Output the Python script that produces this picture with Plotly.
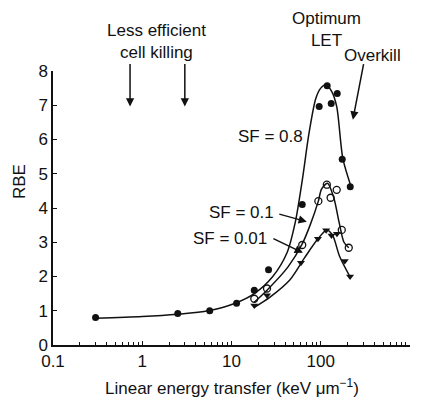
import numpy as np
import plotly.graph_objects as go

# ---- data points ----
sf08_x = [0.3, 2.5, 5.7, 11.4, 18, 26, 62, 96, 118, 131, 153, 174, 214]
sf08_y = [0.8, 0.92, 1.0, 1.22, 1.6, 2.2, 4.1, 6.96, 7.57, 7.05, 7.34, 5.42, 4.62]

sf01_x = [18, 25, 62, 94, 117, 129, 151, 172, 206]
sf01_y = [1.35, 1.65, 2.92, 4.2, 4.68, 4.3, 4.53, 3.36, 2.84]

sf001_x = [18, 25, 60, 93, 115, 132, 152, 186, 213]
sf001_y = [1.15, 1.45, 2.4, 3.1, 3.35, 3.2, 3.25, 2.45, 2.0]

# ---- fitted curves ----
c08_x = [0.3, 1, 2.5, 5.5, 11, 18, 29, 42, 52, 62, 74, 88, 100, 114, 133, 151, 177, 217]
c08_y = [0.78, 0.83, 0.9, 1.0, 1.22, 1.5, 2.0, 2.7, 3.6, 4.8, 6.2, 7.2, 7.5, 7.6, 7.4, 6.96, 5.44, 4.65]

c01_x = [18, 25, 43, 62, 76, 94, 102, 119, 140, 160, 182, 206]
c01_y = [1.25, 1.6, 2.28, 2.95, 3.5, 4.2, 4.55, 4.72, 4.3, 3.6, 3.0, 2.84]

c001_x = [18, 27, 45, 66, 93, 117, 136, 162, 212]
c001_y = [1.1, 1.4, 1.9, 2.55, 3.1, 3.36, 3.2, 2.6, 2.0]

y_ticks = [0, 1, 2, 3, 4, 5, 6, 7, 8]
x_ticks = [0.1, 1, 10, 100, 1000]
x_ticklabels = ["0.1", "1", "10", "100", "1000"]
x_minor = [m * 10.0 ** e for e in range(-1, 3) for m in range(2, 10)]

INK = "#111111"
FONT = "Liberation Sans, Arial, Helvetica, sans-serif"

fig = go.Figure()

line = dict(color=INK, width=1.5, shape="spline", smoothing=0.8)
for cx, cy in [(c08_x, c08_y), (c01_x, c01_y), (c001_x, c001_y)]:
    fig.add_trace(go.Scatter(x=cx, y=cy, mode="lines", line=line, hoverinfo="skip"))

fig.add_trace(go.Scatter(x=sf08_x, y=sf08_y, mode="markers",
                         marker=dict(symbol="circle", size=7, color=INK)))
fig.add_trace(go.Scatter(x=sf01_x, y=sf01_y, mode="markers",
                         marker=dict(symbol="circle-open", size=7, color=INK,
                                     line=dict(width=1.3, color=INK))))
fig.add_trace(go.Scatter(x=sf001_x, y=sf001_y, mode="markers",
                         marker=dict(symbol="triangle-down", size=7, color=INK)))

ann = []
def txt(t, x, y, angle=0):
    ann.append(dict(text=t, x=x, y=y, xref="paper", yref="paper", showarrow=False,
                    xanchor="center", yanchor="middle", textangle=angle,
                    font=dict(size=17, color=INK, family=FONT)))

def arr(xd, yd, ax, ay):
    ann.append(dict(text="", x=np.log10(xd), y=yd, xref="x", yref="y", showarrow=True,
                    ax=ax, ay=ay, arrowhead=2, arrowsize=1.1, arrowwidth=1.5,
                    arrowcolor=INK, standoff=0))

# plot area in window pixels: x 53..410, y 71..345 (page body has an 8px margin)
def px(xp):
    return (xp - 53) / 357.0
def py(yp):
    return (345 - yp) / 274.0

txt("Less efficient<br>cell killing", px(156), py(41))
arr(0.73, 6.96, 0, -44)
arr(3.0, 6.96, 0, -44)
txt("Optimum<br>LET", px(326), py(29))
arr(117, 8.04, 0, -22)
txt("Overkill", px(372), py(55))
arr(229, 6.58, 11, -57)
txt("SF = 0.8", px(270), py(136))
txt("SF = 0.1", px(241), py(212))
arr(69.8, 3.6, -29, -8)
txt("SF = 0.01", px(230), py(239))
arr(63.1, 2.69, -31, -15)
txt("Linear energy transfer (keV \u03bcm<sup>\u22121</sup>)", px(232), py(387))
txt("RBE", px(19), py(182), angle=-90)

fig.update_layout(
    width=420, height=391,
    margin=dict(l=45, r=18, t=63, b=54, autoexpand=False),
    paper_bgcolor="white", plot_bgcolor="white",
    showlegend=False,
    font=dict(family=FONT, size=17, color=INK),
    annotations=ann,
)
fig.update_xaxes(type="log", range=[-1, 3], showgrid=False, zeroline=False,
                 automargin=False,
                 showline=True, linecolor=INK, linewidth=1.5,
                 tickmode="array", tickvals=x_ticks, ticktext=x_ticklabels,
                 ticks="inside", ticklen=4, tickcolor=INK, tickwidth=1,
                 minor=dict(ticks="inside", ticklen=3, tickcolor=INK, showgrid=False,
                            tickmode="array", tickvals=x_minor),
                 tickfont=dict(size=17))
fig.update_yaxes(range=[0, 8], showgrid=False, zeroline=False,
                 automargin=False,
                 showline=True, linecolor=INK, linewidth=1.5,
                 tickmode="array", tickvals=y_ticks,
                 ticks="inside", ticklen=4, tickcolor=INK, tickwidth=1,
                 tickfont=dict(size=17))

fig.write_html("out.html")
